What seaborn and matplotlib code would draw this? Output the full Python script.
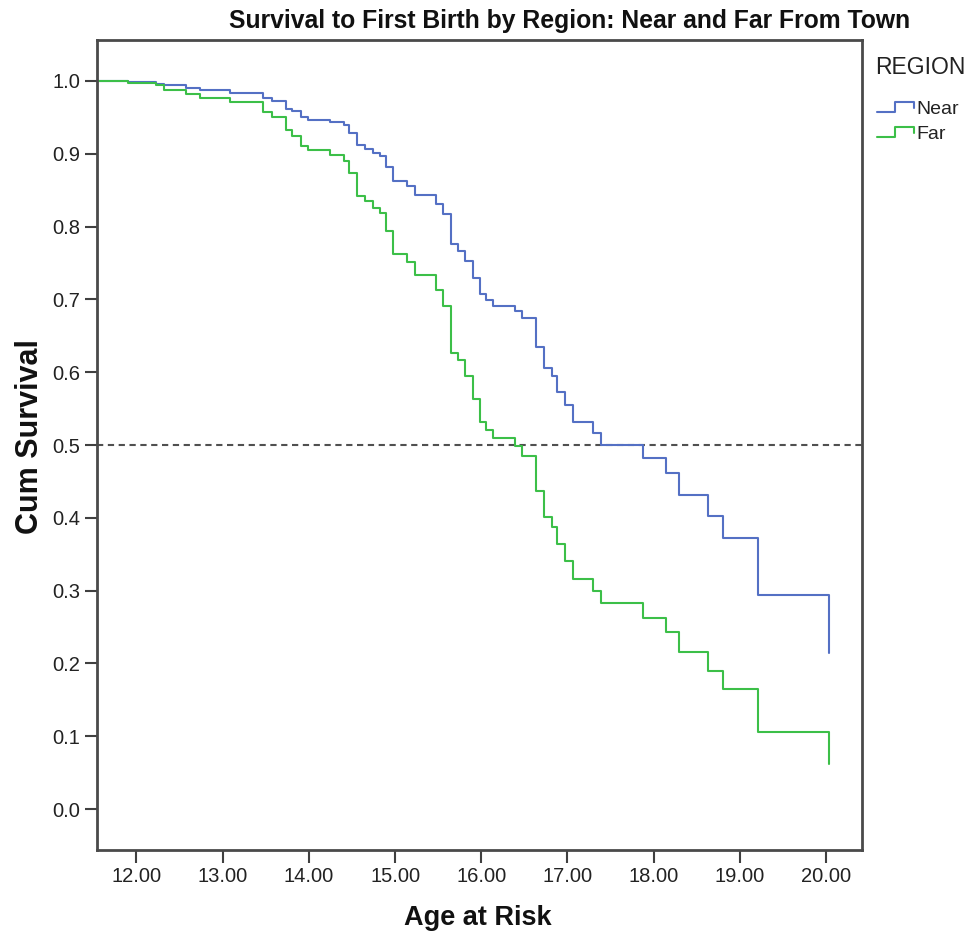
import numpy as np
import pandas as pd
import matplotlib
matplotlib.use("Agg")
import matplotlib.pyplot as plt
from matplotlib.lines import Line2D
from matplotlib.legend_handler import HandlerBase
import seaborn as sns

# ---- data ----
ages = [11.50, 11.90, 12.23, 12.32, 12.58, 12.74, 13.08, 13.47, 13.57, 13.73,
        13.81, 13.91, 13.99, 14.24, 14.41, 14.47, 14.56, 14.65, 14.74, 14.82,
        14.90, 14.98, 15.14, 15.23, 15.47, 15.56, 15.65, 15.73, 15.81, 15.90,
        15.98, 16.06, 16.14, 16.39, 16.47, 16.64, 16.73, 16.82, 16.88, 16.97,
        17.06, 17.30, 17.39, 17.88, 18.14, 18.29, 18.63, 18.80, 19.21, 20.03]
near_surv = [1.000, 0.998, 0.996, 0.994, 0.990, 0.987, 0.984, 0.977, 0.973, 0.962,
             0.959, 0.951, 0.946, 0.943, 0.940, 0.929, 0.912, 0.906, 0.901, 0.897,
             0.882, 0.862, 0.856, 0.844, 0.831, 0.817, 0.776, 0.767, 0.753, 0.730,
             0.708, 0.699, 0.691, 0.684, 0.674, 0.635, 0.606, 0.595, 0.573, 0.555,
             0.532, 0.517, 0.500, 0.482, 0.461, 0.431, 0.402, 0.372, 0.294, 0.214]
far_surv = [1.000, 0.997, 0.994, 0.987, 0.982, 0.976, 0.971, 0.958, 0.951, 0.933,
            0.924, 0.911, 0.905, 0.898, 0.890, 0.874, 0.842, 0.835, 0.826, 0.818,
            0.794, 0.763, 0.752, 0.734, 0.713, 0.691, 0.627, 0.617, 0.595, 0.563,
            0.531, 0.520, 0.509, 0.498, 0.485, 0.437, 0.401, 0.388, 0.364, 0.340,
            0.316, 0.299, 0.283, 0.262, 0.243, 0.216, 0.190, 0.165, 0.106, 0.062]
regions = ["Near", "Far"]
x_ticks = [12, 13, 14, 15, 16, 17, 18, 19, 20]
y_ticks = [0.0, 0.1, 0.2, 0.3, 0.4, 0.5, 0.6, 0.7, 0.8, 0.9, 1.0]
median_line = 0.5

df = pd.concat([
    pd.DataFrame({"Age at Risk": ages, "Cum Survival": near_surv, "REGION": "Near"}),
    pd.DataFrame({"Age at Risk": ages, "Cum Survival": far_surv, "REGION": "Far"}),
], ignore_index=True)

palette = {"Near": "#5470c4", "Far": "#3cbf48"}

sns.set_style("ticks")
plt.rcParams["font.family"] = ["Liberation Sans", "DejaVu Sans"]

fig = plt.figure(figsize=(9.72, 9.41), dpi=100)
ax = fig.add_axes([97 / 972, 1 - 850 / 941, (862 - 97) / 972, (850 - 40) / 941])

sns.lineplot(data=df, x="Age at Risk", y="Cum Survival", hue="REGION",
             hue_order=regions, palette=palette, estimator=None, sort=True,
             drawstyle="steps-post", linewidth=1.5, legend=False, ax=ax)

ax.axhline(median_line, color="#505050", linestyle=(0, (3, 2.2)), linewidth=1.5, zorder=1)

ax.set_xlim(11.542, 20.417)
ax.set_ylim(-0.0563, 1.0563)
ax.set_xticks(x_ticks)
ax.set_xticklabels([f"{v:.2f}" for v in x_ticks])
ax.set_yticks(y_ticks)
ax.set_yticklabels([f"{v:.1f}" for v in y_ticks])
ax.tick_params(axis="both", direction="out", length=9, width=1.5, color="#404040",
               labelsize=14.5, labelcolor="#222222", pad=3)

for s in ax.spines.values():
    s.set_visible(True)
    s.set_color("#4a4a4a")
    s.set_linewidth(2)

ax.set_xlabel("Age at Risk", fontsize=19.5, fontweight="bold", color="#111111")
ax.set_ylabel("Cum Survival", fontsize=22, fontweight="bold", color="#111111")
ax.xaxis.set_label_coords((478 - 97) / 765, (850 - 918) / 810)
ax.xaxis.label.set_va("center")
ax.yaxis.set_label_coords((30 - 97) / 765, (850 - 437) / 810)
ax.yaxis.label.set_va("center")

fig.text(570 / 972, 1 - 21 / 941, "Survival to First Birth by Region: Near and Far From Town",
         ha="center", va="center", fontsize=17.8, fontweight="bold", color="#111111")

fig.text(875 / 972, 1 - 67 / 941, "REGION", ha="left", va="center",
         fontsize=16.5, color="#222222")


class StepHandler(HandlerBase):
    def create_artists(self, legend, orig_handle, xdescent, ydescent, width, height,
                       fontsize, trans):
        xs = np.array([0.0, 0.5, 0.5, 1.0, 1.0]) * width - xdescent
        ys = np.array([0.1, 0.1, 0.9, 0.9, 0.45]) * height - ydescent
        ln = Line2D(xs, ys, color=orig_handle.get_color(), linewidth=1.5)
        ln.set_transform(trans)
        return [ln]


handles = [Line2D([], [], color=palette[r]) for r in regions]
leg = fig.legend(handles, regions, loc="upper left",
                 bbox_to_anchor=(877 / 972, 1 - 101 / 941), frameon=False,
                 borderpad=0, borderaxespad=0,
                 fontsize=14, handlelength=1.9, handleheight=0.6,
                 handletextpad=0.15, labelspacing=0.4,
                 handler_map={Line2D: StepHandler()})
for t in leg.get_texts():
    t.set_color("#222222")

fig.savefig("out.png", dpi=100, facecolor="white")
